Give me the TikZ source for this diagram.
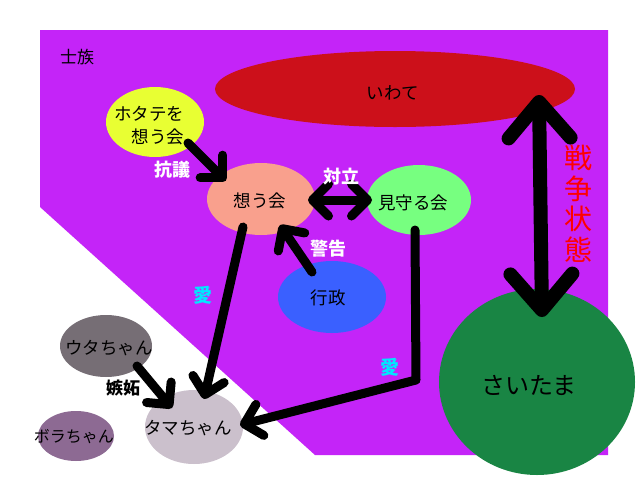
\documentclass[tikz,border=0pt]{standalone}
\usepackage{fontspec}
\setmainfont{Noto Sans CJK JP}
\usetikzlibrary{shapes.geometric,arrows.meta,calc}
\definecolor{bgpurple}{RGB}{196,36,248}
\definecolor{iwatered}{RGB}{204,16,26}
\definecolor{hotateyellow}{RGB}{232,255,51}
\definecolor{omousalmon}{RGB}{249,160,141}
\definecolor{mimamorugreen}{RGB}{119,255,128}
\definecolor{gyoseiblue}{RGB}{58,96,255}
\definecolor{saitamagreen}{RGB}{25,133,68}
\definecolor{utagray}{RGB}{118,110,117}
\definecolor{tamalilac}{RGB}{203,192,204}
\definecolor{boramauve}{RGB}{141,106,147}
\definecolor{aicyan}{RGB}{0,232,255}
\tikzset{
  blob/.style={ellipse, inner sep=0pt, text=black, font=\fontsize{17.5}{21}\selectfont, label distance=0pt},
  arr/.style={line width=9pt, line cap=round, line join=round, -{Straight Barb[length=16pt,width=32pt,round]}},
  darr/.style={line width=9pt, line cap=round, line join=round, {Straight Barb[length=16pt,width=32pt,round]}-{Straight Barb[length=16pt,width=32pt,round]}},
  bigarr/.style={line width=14pt, line cap=round, line join=round, {Straight Barb[length=36pt,width=62pt,round]}-{Straight Barb[length=36pt,width=62pt,round]}},
  intext/.style={text=black, inner sep=0pt, font=\fontsize{17.5}{23}\selectfont},
  wlbl/.style={text=white, inner sep=0pt, font=\fontsize{18}{20}\selectfont\bfseries},
  blbl/.style={text=black, inner sep=0pt, font=\fontsize{17}{20}\selectfont},
  ailbl/.style={text=aicyan, inner sep=0pt, font=\fontsize{19}{22}\selectfont\bfseries},
}
\begin{document}
\begin{tikzpicture}[x=1pt,y=-1pt]
\useasboundingbox (0,0) rectangle (640,480);
\fill[white] (0,0) rectangle (640,480);
\fill[bgpurple] (40,30) -- (608,30) -- (608,455) -- (315,455) -- (40,207) -- cycle;

\node[blob, fill=iwatered, minimum width=360pt, minimum height=76pt,
  label={[intext, xshift=-2pt, yshift=-4pt]center:いわて}] (iwate) at (395,89) {};
\node[blob, fill=hotateyellow, minimum width=98pt, minimum height=70pt,
  label={[intext, align=right, xshift=-6pt, yshift=-4pt]center:ホタテを\\想う会}] (hotate) at (155,122) {};
\node[blob, fill=omousalmon, minimum width=108pt, minimum height=72pt,
  label={[intext, xshift=-1pt, yshift=-2pt]center:想う会}] (omou) at (261,199) {};
\node[blob, fill=mimamorugreen, minimum width=104pt, minimum height=70pt,
  label={[intext, xshift=-6pt, yshift=-3pt]center:見守る会}] (mimamoru) at (419,200) {};
\node[blob, fill=gyoseiblue, minimum width=108pt, minimum height=72pt,
  label={[intext, xshift=-4pt, yshift=-1pt]center:行政}] (gyosei) at (332,297) {};
\node[blob, fill=saitamagreen, minimum width=196pt, minimum height=186pt,
  label={[intext, font=\fontsize{24}{28}\selectfont, xshift=-8pt, yshift=-3pt]center:さいたま}] (saitama) at (537,382) {};
\node[blob, fill=utagray, minimum width=92pt, minimum height=62pt,
  label={[intext, xshift=3pt, yshift=-2pt]center:ウタちゃん}] (uta) at (106,346) {};
\node[blob, fill=tamalilac, minimum width=98pt, minimum height=74pt,
  label={[intext, xshift=-6pt, yshift=-1pt]center:タマちゃん}] (tama) at (194,427) {};
\node[blob, fill=boramauve, minimum width=76pt, minimum height=50pt,
  label={[intext, font=\fontsize{16}{20}\selectfont, xshift=-2pt, yshift=-1pt]center:ボラちゃん}] (bora) at (76,436) {};

\coordinate (bend) at (416,380);
\draw[arr] ($(hotate)+(33,21)$) -- ($(omou)+(-35,-18)$);
\draw[darr] ($(omou)+(47,1)$) -- ($(mimamoru)+(-47,0)$);
\draw[arr] ($(gyosei)+(-20,-25)$) -- ($(omou)+(19,26)$);
\draw[arr] ($(omou)+(-18,28)$) -- ($(tama)+(10,-28)$);
\draw[arr] ($(mimamoru)+(-4,30)$) -- (bend) -- ($(tama)+(46,-2)$);
\draw[arr] ($(uta)+(31,20)$) -- ($(tama)+(-22,-19)$);
\draw[bigarr] ($(iwate)+(144,6)$) -- ($(saitama)+(5,-65)$);

\node[blbl] (shizoku) at (77,57) {士族};
\node[wlbl] (kougi) at (172,170) {抗議};
\node[wlbl] (tairitsu) at (341,177) {対立};
\node[wlbl] (keikoku) at (328,249) {警告};
\node[ailbl] (ai1) at (203,295) {愛};
\node[ailbl] (ai2) at (390,367) {愛};
\node[blbl, font=\fontsize{17}{20}\selectfont\bfseries] (shitto) at (123,388) {嫉妬};
\node[text=red, inner sep=0pt, align=center, font=\fontsize{28}{30.5}\selectfont] (senso) at (578,204) {戦\\争\\状\\態};
\end{tikzpicture}
\end{document}
